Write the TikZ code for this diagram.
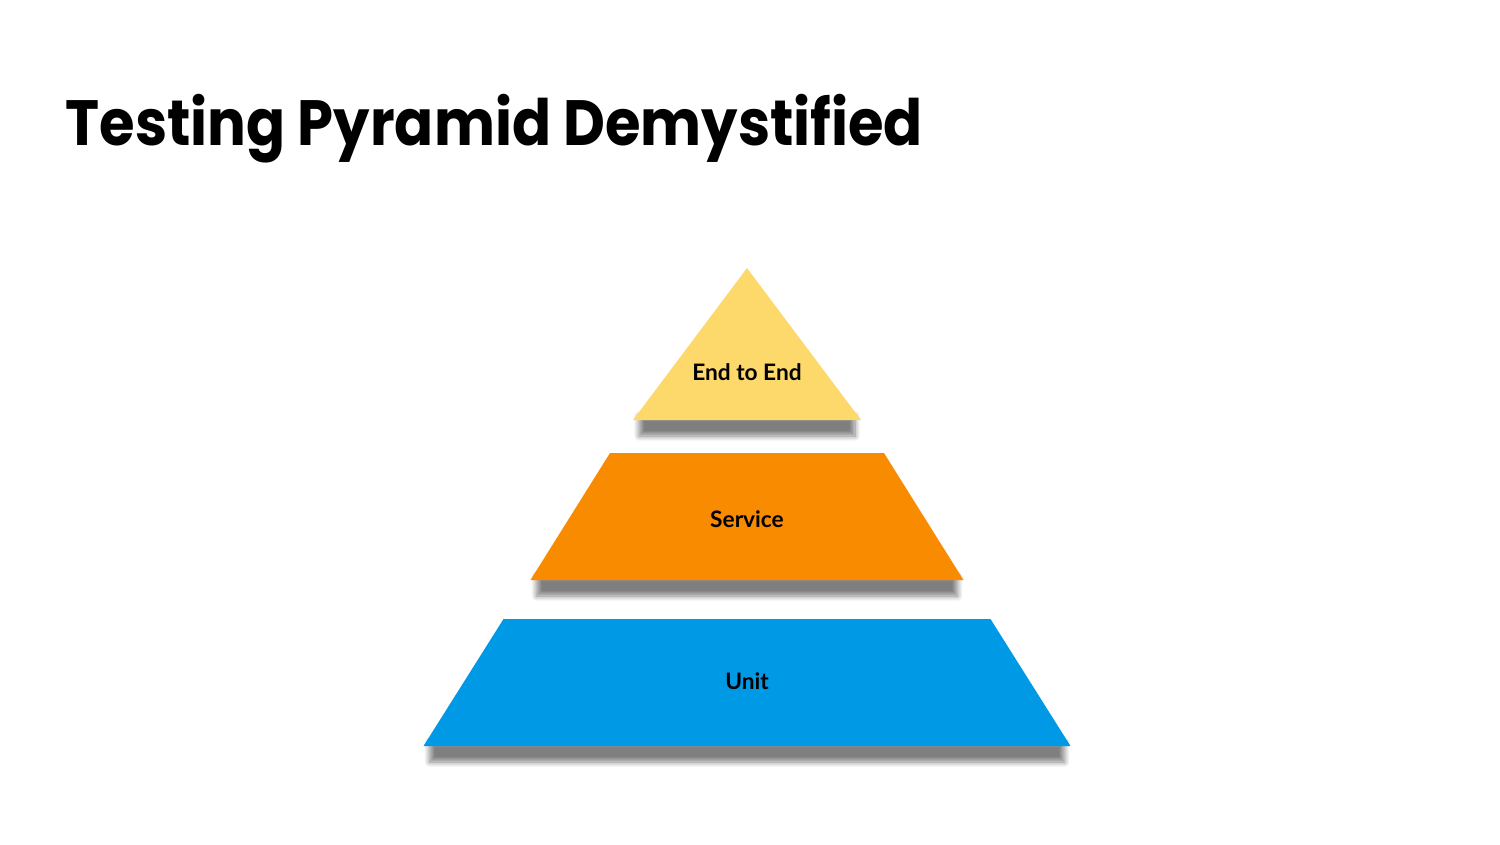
\documentclass[tikz,border=0pt]{standalone}
\usepackage{fontspec}
\setmainfont{Lato}
\newfontfamily\titlefont[FakeStretch=0.9]{Poppins}
\usetikzlibrary{shadows.blur}
\definecolor{cyellow}{HTML}{FDD86A}
\definecolor{corange}{HTML}{F98B00}
\definecolor{cblue}{HTML}{0099E5}
\tikzset{
  title/.style={font=\titlefont\bfseries\fontsize{18.2}{22}\selectfont, anchor=base west, inner sep=0pt},
  layer/.style={font=\bfseries\fontsize{6.45}{8}\selectfont, text=black, inner sep=0pt},
  slab/.style={fill=#1},
  drop/.style={blur shadow={shadow xshift=0pt, shadow yshift=0pt, shadow blur radius=1.5pt, shadow blur steps=10, shadow opacity=50}},
}
\begin{document}
\begin{tikzpicture}[x=0.01cm, y=-0.01cm]
  \useasboundingbox (0,0) rectangle (1500,844);
  \node[title] (head) at (65,145) {Testing Pyramid Demystified};
  % layers: name / colour / top y / bottom y / top half width / bottom half width / label y / label
  \foreach \n/\c/\yt/\yb/\wt/\wb/\ly/\txt in {e2e/cyellow/268/420/0/114/372/End to End,
      svc/corange/453/580/137/216.5/519/Service,
      unit/cblue/619/746/243.5/323.5/681/Unit}{
    \path[drop] (747-\wb+6,\yb-4) rectangle (747+\wb-6,\yb+16);
    \fill[slab=\c] (747-\wt,\yt) -- (747+\wt,\yt) -- (747+\wb,\yb) -- (747-\wb,\yb) -- cycle;
    \node[layer] (\n) at (747,\ly) {\txt};
  }
\end{tikzpicture}
\end{document}
